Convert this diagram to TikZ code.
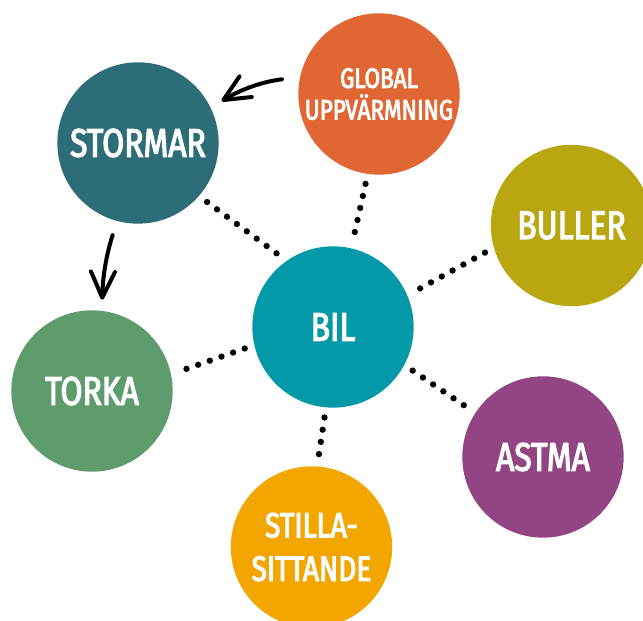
\documentclass[tikz,border=0pt]{standalone}
\usepackage{fontspec}
\setmainfont{Fira Sans}[FakeStretch=0.8, FakeBold=3]
\usetikzlibrary{arrows.meta}

\definecolor{stormteal}{HTML}{2C6D78}
\definecolor{globalorange}{HTML}{E06733}
\definecolor{bullerolive}{HTML}{B8A711}
\definecolor{bilblue}{HTML}{0399A9}
\definecolor{torkagreen}{HTML}{5E9C6D}
\definecolor{astmapurple}{HTML}{924582}
\definecolor{stillayellow}{HTML}{F3A600}

\tikzset{
	topic/.style={circle, fill=#1, minimum size=4.84cm, inner sep=0pt, text=white, align=center, font=\fontsize{34}{36}\selectfont},
	dots/.style={line width=0.19cm, line cap=round, dash pattern=on 0pt off 0.37cm, shorten <=0.3cm, shorten >=0.3cm},
	sketch/.style={line width=0.12cm, line cap=round, -{Straight Barb[length=0.78cm, width=0.72cm, round]}}
}

\begin{document}
\begin{tikzpicture}[x=0.03cm, y=0.03cm]
			\clip (0,0) rectangle (643,621);
			\fill[white] (0,0) rectangle (643,621);
			
			% the circles
			\node[topic=bilblue] (bil) at (333,294) {BIL};
			\node[topic=stormteal] (stormar) at (138,478) {STORMAR};
			\node[topic=globalorange, font=\fontsize{24}{29}\selectfont] (global) at (379,527) {GLOBAL\\[-2pt]UPPVÄRMNING};
			\node[topic=bullerolive] (buller) at (571.5,395.5) {BULLER};
			\node[topic=torkagreen] (torka) at (92,230) {TORKA};
			\node[topic=astmapurple] (astma) at (543,164) {ASTMA};
			\node[topic=stillayellow, font=\fontsize{30}{37}\selectfont] (stilla) at (311.5,74) {STILLA-\\SITTANDE};
			
			% dotted links to BIL
			\draw[dots] (stormar.-41) -- (bil.125);
			\draw[dots] (global.-98) -- (bil.77);
			\draw[dots] (buller.196) -- (bil.23);
			\draw[dots] (bil.193) -- (torka.12);
			\draw[dots] (bil.-28) -- (astma.147);
			\draw[dots] (bil.-95) -- (stilla.86);
			
			% arrows
			\draw[sketch, shorten <=0.54cm, shorten >=0.38cm] (global.168) to[bend right=12] (stormar.26);
			\draw[sketch, shorten <=0.44cm, shorten >=0.33cm] (stormar.-105) to[bend right=8] (torka.83);
		\end{tikzpicture}
\end{document}
